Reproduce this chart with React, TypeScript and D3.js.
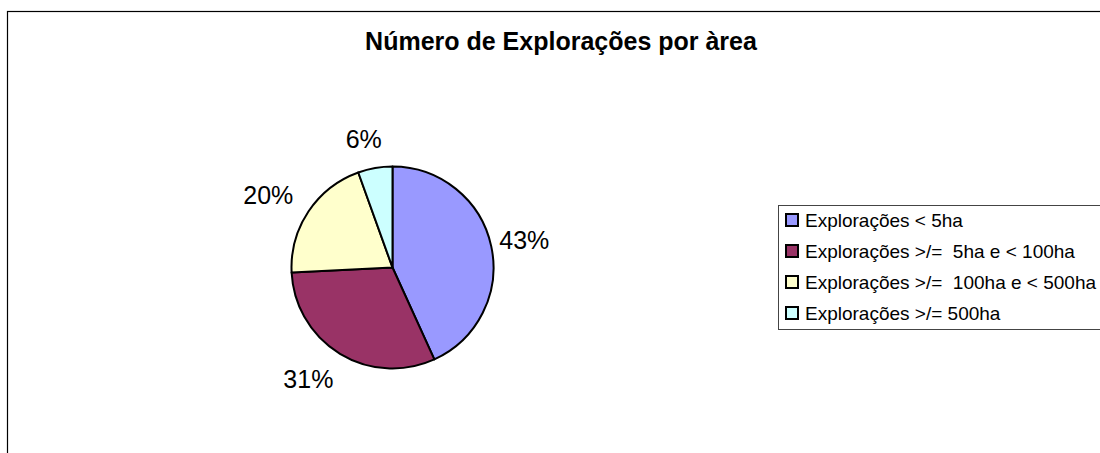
import React from "react";
import * as d3 from "d3";

const title = "Número de Explorações por àrea";
const categories = [
  "Explorações < 5ha",
  "Explorações >/=  5ha e < 100ha",
  "Explorações >/=  100ha e < 500ha",
  "Explorações >/= 500ha",
];
const values = [43.2, 31.0, 20.3, 5.5];
const colors = ["#9999FF", "#993366", "#FFFFCC", "#CCFFFF"];

const W = 1100;
const H = 453;
const cx = 392.5;
const cy = 267.5;
const R = 101;

const FONT = "'Liberation Sans', Arial, Helvetica, sans-serif";

export default function App() {
  const total = d3.sum(values);
  const pie = d3.pie<number>().sort(null).value((d) => d)(values);
  const arc = d3.arc<d3.PieArcDatum<number>>().innerRadius(0).outerRadius(R);
  const fmt = (v: number) => `${Math.round((v / total) * 100)}%`;

  const legendY = d3
    .scalePoint<string>()
    .domain(categories)
    .range([227, 320]);

  return (
    <svg
      width={W}
      height={H}
      style={{ position: "absolute", left: 0, top: 0, background: "#fff" }}
      fontFamily={FONT}
    >
      <rect x={7.5} y={11.5} width={W + 20} height={H + 20} fill="#fff" stroke="#000" strokeWidth={1.2} />
      <text x={561} y={50} textAnchor="middle" fontSize={25} fontWeight="bold" fill="#000">
        {title}
      </text>
      <g transform={`translate(${cx},${cy})`}>
        {pie.map((d, i) => (
          <path key={i} d={arc(d) || ""} fill={colors[i]} stroke="#000" strokeWidth={2} strokeLinejoin="round" />
        ))}
        {pie.map((d, i) => {
          const a = (d.startAngle + d.endAngle) / 2;
          const s = Math.sin(a);
          const c = Math.cos(a);
          const x = s * (126 + 42 * Math.abs(c));
          const y = -130 * c;
          return (
            <text key={"l" + i} x={x} y={y} dy="0.36em" textAnchor="middle" fontSize={25} fill="#000">
              {fmt(d.data)}
            </text>
          );
        })}
      </g>
      <rect x={778.5} y={205.5} width={340} height={124} fill="#fff" stroke="#444" strokeWidth={1} />
      {categories.map((c, i) => {
        const y = legendY(c) as number;
        return (
          <g key={c}>
            <rect x={786} y={y - 13} width={12} height={12} fill={colors[i]} stroke="#000" strokeWidth={2} />
            <text x={805} y={y} fontSize={19} fill="#000" style={{ whiteSpace: "pre" }}>
              {c}
            </text>
          </g>
        );
      })}
    </svg>
  );
}
